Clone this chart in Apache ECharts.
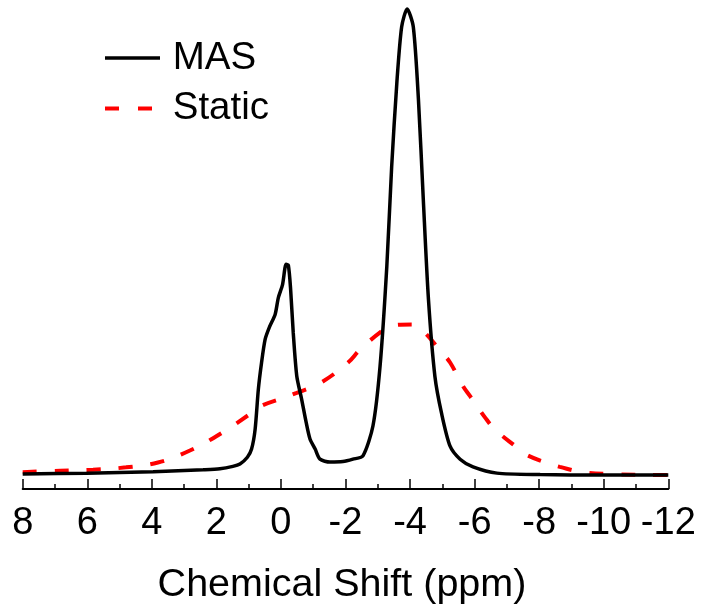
<!DOCTYPE html>
<html>
<head>
<meta charset="utf-8">
<script src="https://cdn.jsdelivr.net/npm/echarts@6/dist/echarts.min.js"></script>
<style>html,body{margin:0;padding:0;background:#fff}#c{width:701px;height:610px}</style>
</head>
<body>
<div id="c"></div>
<script>
// Chemical shift (ppm), intensity (a.u.)
var masShift = [8.00, 6.02, 3.96, 2.41, 1.89, 1.49, 1.27, 1.04, 0.91, 0.80, 0.70, 0.60, 0.49, 0.36, 0.18, 0.08, -0.05, -0.16, -0.23, -0.30, -0.38, -0.49, -0.64, -0.78, -0.90, -1.06, -1.21, -1.52, -1.92, -2.23, -2.54, -2.85, -3.07, -3.28, -3.43, -3.59, -3.74, -3.91, -4.10, -4.26, -4.41, -4.57, -4.77, -4.98, -5.24, -5.55, -5.95, -6.69, -8.03, -9.88, -12.0];
var masIntensity = [3.1, 3.3, 3.6, 4.0, 4.2, 4.7, 5.2, 6.6, 8.3, 12.4, 20.7, 26.3, 31.1, 33.6, 36.3, 39.8, 42.5, 46.7, 46.5, 41.5, 32.6, 23.5, 18.7, 13.9, 10.4, 8.3, 6.2, 5.6, 5.7, 6.2, 6.9, 13.1, 25.5, 46.3, 67.0, 84.4, 96.1, 99.8, 96.1, 80.9, 60.2, 39.4, 23.4, 15.6, 8.9, 6.2, 4.6, 3.3, 3.0, 2.9, 2.9];
var staticShift = [8.00, 6.84, 5.82, 4.80, 3.81, 2.82, 1.80, 0.87, 0.60, -0.06, -0.49, -1.21, -2.08, -2.45, -3.12, -3.43, -4.05, -4.41, -4.98, -5.24, -5.64, -5.86, -6.32, -6.63, -7.30, -7.61, -8.34, -8.64, -9.34, -10.27, -11.64, -12.0];
var staticIntensity = [3.5, 3.8, 4.0, 4.5, 5.5, 8.0, 11.8, 16.0, 17.3, 18.9, 20.0, 22.0, 26.3, 29.0, 32.8, 34.0, 34.2, 32.8, 28.4, 26.3, 21.4, 19.3, 14.9, 12.4, 8.7, 7.1, 5.2, 4.6, 3.5, 3.1, 2.9, 2.9];
var seriesNames = ['MAS', 'Static'];
var axisTitle = 'Chemical Shift (ppm)';

function pairs(xs, ys) { return xs.map(function (x, i) { return [x, ys[i]]; }); }

var font = '"Liberation Sans", Arial, sans-serif';
var chart = echarts.init(document.getElementById('c'), null, { renderer: 'canvas' });
chart.setOption({
  animation: false,
  backgroundColor: '#ffffff',
  grid: { left: 22.7, right: 32.7, top: 8, bottom: 120, containLabel: false },
  legend: {
    orient: 'vertical',
    left: 103,
    top: 38.5,
    padding: 0,
    itemWidth: 55,
    itemHeight: 10,
    itemGap: 8.5,
    itemStyle: { opacity: 0 },
    data: [
      { name: seriesNames[0], lineStyle: { color: '#000', width: 3.5, type: 'solid' },
        textStyle: { padding: [0, 0, 8, 7.7] } },
      { name: seriesNames[1], lineStyle: { color: '#ff0000', width: 4, type: [14, 19] },
        textStyle: { padding: [0, 0, 15, 7.7] } }
    ],
    textStyle: { fontFamily: font, fontSize: 38.5, color: '#000', lineHeight: 30 }
  },
  xAxis: {
    type: 'value',
    inverse: true,
    min: -12,
    max: 8,
    interval: 2,
    splitLine: { show: false },
    axisLine: { show: true, onZero: false, lineStyle: { color: '#000', width: 2 } },
    axisTick: { show: true, inside: true, length: 10, lineStyle: { color: '#000', width: 1.5 } },
    minorTick: { show: true, splitNumber: 2, length: 5, lineStyle: { color: '#000', width: 1.5 } },
    axisLabel: { fontFamily: font, fontSize: 38, color: '#000', margin: 16 },
    name: axisTitle,
    nameLocation: 'middle',
    nameGap: 76,
    nameTextStyle: { fontFamily: font, fontSize: 39.5, color: '#000', padding: [0, 7, 0, 0] }
  },
  yAxis: {
    type: 'value',
    min: 0,
    max: 100,
    show: false
  },
  series: [
    {
      name: seriesNames[0],
      type: 'line',
      data: pairs(masShift, masIntensity),
      showSymbol: false,
      symbol: 'none',
      smooth: 0.25,
      lineStyle: { color: '#000', width: 3.5 },
      itemStyle: { color: '#000' },
      z: 3
    },
    {
      name: seriesNames[1],
      type: 'line',
      data: pairs(staticShift, staticIntensity),
      showSymbol: false,
      symbol: 'none',
      smooth: 0.4,
      lineStyle: { color: '#ff0000', width: 4, type: [14, 18] },
      itemStyle: { color: '#ff0000' },
      z: 2
    }
  ]
});
</script>
</body>
</html>
